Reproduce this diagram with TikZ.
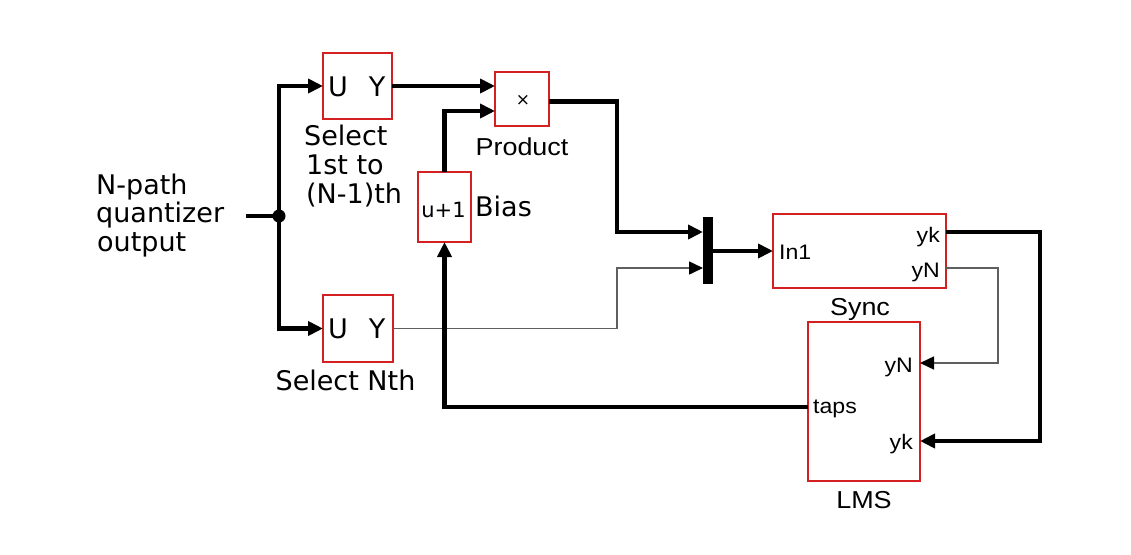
\documentclass[tikz,border=0pt]{standalone}
\usepackage{fontspec}
\newfontfamily\dvfont{DejaVu Sans}
\newfontfamily\arfont[FakeStretch=1.1]{Liberation Sans}
\usetikzlibrary{arrows.meta,calc}
\definecolor{boxred}{RGB}{212,32,32}
\definecolor{wiregray}{RGB}{95,95,95}
\begin{document}
\begin{tikzpicture}[x=1pt,y=-1pt,
  blk/.style={draw=boxred, line width=2.2pt, fill=white, inner sep=0pt, outer sep=0pt},
  wire/.style={line width=4.4pt, -{Triangle[length=15pt,width=14pt]}},
  plainwire/.style={line width=4.4pt},
  thinwire/.style={draw=wiregray, line width=1.5pt, -{Triangle[length=14pt,width=13pt,color=black]}},
  dvt/.style={font=\dvfont\fontsize{27}{29}\selectfont, inner sep=0pt},
  dvs/.style={font=\dvfont\fontsize{21}{24}\selectfont, inner sep=0pt},
  art/.style={font=\arfont\fontsize{24.5}{28}\selectfont, inner sep=0pt},
  port/.style={font=\arfont\fontsize{21}{24}\selectfont, inner sep=0pt}]
\useasboundingbox[fill=white] (0,0) rectangle (1131,554);

% blocks
\node[blk, minimum width=69pt, minimum height=66pt] (sel1) at (357.5,86) {};
\node[blk, minimum width=70pt, minimum height=67pt] (sel2) at (358,328.5) {};
\node[blk, minimum width=54pt, minimum height=54pt] (prod) at (522,99) {};
\node[blk, minimum width=53pt, minimum height=70pt] (bias) at (444.5,207) {};
\node[fill=black, minimum width=10pt, minimum height=67pt, inner sep=0pt, outer sep=0pt] (mux) at (708,250.5) {};
\node[blk, minimum width=173pt, minimum height=74pt] (sync) at (859.5,251) {};
\node[blk, minimum width=112pt, minimum height=159pt] (lms) at (864,401.5) {};
\node[circle, fill=black, minimum size=13pt, inner sep=0pt] (dot) at (279,216) {};

% texts in blocks
\node[dvt, anchor=base] (u1) at (338,96) {U};
\node[dvt, anchor=base] (y1) at (377,96) {Y};
\node[dvt, anchor=base] (u2) at (338,338) {U};
\node[dvt, anchor=base] (y2) at (377,338) {Y};
\node[font=\dvfont\fontsize{17}{17}\selectfont, inner sep=0pt] (times) at (523,100) {×};
\node[dvs, anchor=base] (ubias) at (443.5,217) {u+1};
\node[port, anchor=base west] (in1) at (779,259) {In1};
\node[port, anchor=base east] (syk) at (940,242) {yk};
\node[port, anchor=base east] (syn) at (940,277) {yN};
\node[port, anchor=base east] (lyn) at (913,372) {yN};
\node[port, anchor=base west] (ltaps) at (813,413) {taps};
\node[port, anchor=base east] (lyk) at (913,449) {yk};

% labels
\node[dvt, anchor=base west] (qa) at (96,194) {N-path};
\node[dvt, anchor=base west] (qb) at (96,222.5) {quantizer};
\node[dvt, anchor=base west] (qc) at (97,251) {output};
\node[dvt, anchor=base west] (sa) at (304,145) {Select};
\node[dvt, anchor=base west] (sb) at (306,174) {1st to};
\node[dvt, anchor=base west] (sc) at (306,203) {(N-1)th};
\node[dvt, anchor=base] (snth) at (345.5,390) {Select Nth};
\node[art, anchor=base] (lprod) at (522,155) {Product};
\node[dvt, anchor=base west] (lbias) at (475,216) {Bias};
\node[art, anchor=base] (lsync) at (860,315) {Sync};
\node[art, anchor=base] (llms) at (864,508) {LMS};

% port coordinates
\coordinate (qin) at (246,216);
\coordinate (turn) at (617,0);
\coordinate (prodin2) at ($(prod.west)+(0,12)$);
\coordinate (prodout) at ($(prod.east)+(0,2.5)$);
\coordinate (muxin1) at ($(mux.west)+(0,-18.5)$);
\coordinate (muxin2) at ($(mux.west)+(0,17.5)$);
\coordinate (syncyk) at ($(sync.east)+(0,-19)$);
\coordinate (syncyn) at ($(sync.east)+(0,17)$);
\coordinate (lmsyn) at ($(lms.east)+(0,-38.5)$);
\coordinate (lmsyk) at ($(lms.east)+(0,39.5)$);
\coordinate (lmstaps) at ($(lms.west)+(0,5.5)$);
\coordinate (rx1) at (1040,0);
\coordinate (rx2) at (998,0);

% thin wires
\draw[thinwire] (sel2.east) -- (sel2.east -| turn) |- (muxin2);
\draw[thinwire] (syncyn) -- (syncyn -| rx2) |- (lmsyn);

% thick wires
\draw[plainwire] (qin) -- (dot.center);
\draw[wire] (dot.center) |- (sel1.west);
\draw[wire] (dot.center) |- (sel2.west);
\draw[wire] (sel1.east) -- (sel1.east -| prod.west);
\draw[wire] (bias.north) |- (prodin2);
\draw[wire] (prodout) -- (prodout -| turn) |- (muxin1);
\draw[wire] (sync.west -| mux.east) -- (sync.west);
\draw[wire] (syncyk) -- (syncyk -| rx1) |- (lmsyk);
\draw[wire] (lmstaps) -| (bias.south);
\end{tikzpicture}
\end{document}
